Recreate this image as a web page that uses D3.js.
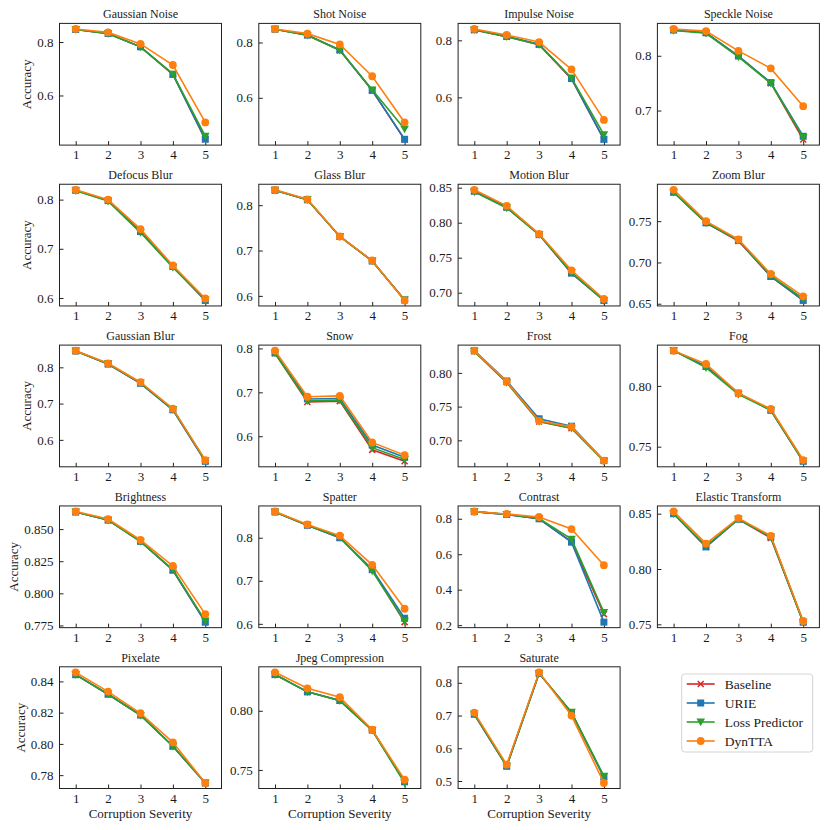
<!DOCTYPE html>
<html><head><meta charset="utf-8">
<script src="https://cdn.jsdelivr.net/npm/d3@7"></script>
<style>
body{margin:0;background:#fff}
svg text{font-family:"Liberation Serif","Times New Roman","DejaVu Serif",serif;fill:#1a1a1a}
</style>
</head><body>
<svg id="c" width="830" height="830" font-family="Liberation Serif, serif"></svg>
<script>
const corruptions = ["Gaussian Noise","Shot Noise","Impulse Noise","Speckle Noise",
  "Defocus Blur","Glass Blur","Motion Blur","Zoom Blur",
  "Gaussian Blur","Snow","Frost","Fog",
  "Brightness","Spatter","Contrast","Elastic Transform",
  "Pixelate","Jpeg Compression","Saturate"];
const severities = [1,2,3,4,5];
const seriesNames = ["Baseline","URIE","Loss Predictor","DynTTA"];

const baseline = [
  [0.847,0.832,0.782,0.679,0.435],
  [0.848,0.826,0.772,0.626,0.449],
  [0.836,0.813,0.785,0.665,0.452],
  [0.847,0.842,0.799,0.750,0.647],
  [0.819,0.798,0.735,0.664,0.595],
  [0.833,0.812,0.731,0.677,0.591],
  [0.845,0.822,0.783,0.728,0.689],
  [0.785,0.748,0.726,0.683,0.654],
  [0.845,0.809,0.756,0.683,0.541],
  [0.789,0.678,0.680,0.569,0.543],
  [0.832,0.786,0.728,0.718,0.670],
  [0.829,0.816,0.794,0.780,0.738],
  [0.8633,0.857,0.8405,0.818,0.7776],
  [0.860,0.829,0.800,0.725,0.604],
  [0.840,0.824,0.800,0.670,0.262],
  [0.850,0.820,0.845,0.828,0.752],
  [0.8443,0.8318,0.8185,0.7985,0.775],
  [0.8306,0.816,0.8087,0.7837,0.740],
  [0.704,0.545,0.829,0.709,0.512]
];
const urie = [
  [0.847,0.832,0.782,0.679,0.437],
  [0.848,0.827,0.773,0.627,0.450],
  [0.837,0.814,0.786,0.666,0.453],
  [0.847,0.842,0.800,0.751,0.653],
  [0.819,0.798,0.735,0.664,0.595],
  [0.833,0.812,0.731,0.677,0.591],
  [0.845,0.822,0.783,0.728,0.689],
  [0.785,0.748,0.727,0.683,0.654],
  [0.845,0.809,0.756,0.683,0.541],
  [0.790,0.685,0.686,0.580,0.552],
  [0.833,0.788,0.732,0.721,0.670],
  [0.829,0.816,0.794,0.780,0.738],
  [0.8633,0.857,0.8405,0.818,0.7776],
  [0.860,0.829,0.800,0.727,0.613],
  [0.840,0.824,0.800,0.668,0.217],
  [0.850,0.820,0.845,0.829,0.752],
  [0.8443,0.8318,0.8185,0.7985,0.775],
  [0.8306,0.816,0.8087,0.7837,0.740],
  [0.704,0.545,0.829,0.708,0.512]
];
const lossPredictor = [
  [0.847,0.831,0.782,0.680,0.448],
  [0.848,0.826,0.772,0.629,0.487],
  [0.837,0.813,0.785,0.668,0.469],
  [0.846,0.841,0.798,0.750,0.651],
  [0.818,0.797,0.733,0.662,0.596],
  [0.833,0.812,0.731,0.677,0.591],
  [0.844,0.821,0.783,0.729,0.689],
  [0.785,0.748,0.727,0.684,0.656],
  [0.845,0.810,0.757,0.684,0.543],
  [0.789,0.681,0.682,0.574,0.547],
  [0.832,0.786,0.728,0.718,0.669],
  [0.829,0.815,0.793,0.780,0.738],
  [0.8633,0.857,0.8403,0.8185,0.7786],
  [0.860,0.829,0.801,0.723,0.606],
  [0.840,0.825,0.801,0.685,0.272],
  [0.850,0.821,0.845,0.829,0.752],
  [0.8443,0.8318,0.8183,0.7985,0.775],
  [0.8306,0.816,0.8085,0.7835,0.739],
  [0.705,0.546,0.829,0.710,0.515]
];
const dynTTA = [
  [0.849,0.836,0.793,0.714,0.499],
  [0.849,0.832,0.793,0.678,0.511],
  [0.840,0.819,0.794,0.698,0.521],
  [0.849,0.845,0.809,0.777,0.708],
  [0.820,0.800,0.740,0.666,0.599],
  [0.834,0.813,0.731,0.678,0.590],
  [0.847,0.824,0.784,0.732,0.691],
  [0.788,0.750,0.728,0.686,0.659],
  [0.846,0.811,0.759,0.686,0.544],
  [0.795,0.690,0.692,0.586,0.557],
  [0.833,0.787,0.729,0.720,0.670],
  [0.829,0.818,0.794,0.781,0.739],
  [0.8637,0.8578,0.8415,0.8213,0.7838],
  [0.861,0.831,0.805,0.737,0.635],
  [0.841,0.827,0.810,0.742,0.538],
  [0.852,0.823,0.846,0.830,0.753],
  [0.8458,0.8335,0.8196,0.801,0.775],
  [0.8325,0.819,0.8115,0.784,0.7417],
  [0.709,0.550,0.832,0.700,0.494]
];
const yTickLabels = [
  ["0.6","0.8"],["0.6","0.8"],["0.6","0.8"],["0.7","0.8"],
  ["0.6","0.7","0.8"],["0.6","0.7","0.8"],["0.70","0.75","0.80","0.85"],["0.65","0.70","0.75"],
  ["0.6","0.7","0.8"],["0.6","0.7","0.8"],["0.70","0.75","0.80"],["0.75","0.80"],
  ["0.775","0.800","0.825","0.850"],["0.6","0.7","0.8"],["0.2","0.4","0.6","0.8"],["0.75","0.80","0.85"],
  ["0.78","0.80","0.82","0.84"],["0.75","0.80"],["0.5","0.6","0.7","0.8"]
];
const xTickLabels = ["1","2","3","4","5"];

const allSeries = [baseline, urie, lossPredictor, dynTTA];
const colors = ["#d62728","#1f77b4","#2ca02c","#ff7f0e"];
const markers = ["x","square","tri","circle"];

const FONT = '"Liberation Serif","Times New Roman","DejaVu Serif",serif';
const svg = d3.select("#c");
const left0 = 59.5, colStep = 199.3, axW = 162;
const top0 = 23.4, rowStep = 160.85, axH = 121.7;

function markerPath(type){
  if(type==="circle") return d3.symbol(d3.symbolCircle, Math.PI*3.9*3.9)();
  if(type==="square") return d3.symbol(d3.symbolSquare, 49)();
  if(type==="tri") return "M-4.3,-3.4L4.3,-3.4L0,4.3Z";
  return "M-3,-3L3,3M-3,3L3,-3";
}
function drawMarker(g, type, color){
  const p = g.append("path").attr("d", markerPath(type));
  if(type==="x") p.attr("fill","none").attr("stroke",color).attr("stroke-width",1.5);
  else p.attr("fill",color).attr("stroke","none");
}

corruptions.forEach((name, i) => {
  const col = i % 4, row = Math.floor(i / 4);
  const ox = left0 + col*colStep, oy = top0 + row*rowStep;
  const g = svg.append("g").attr("transform", `translate(${ox},${oy})`);
  const vals = allSeries.flatMap(s => s[i]);
  const mn = d3.min(vals), mx = d3.max(vals), pad = (mx-mn)*0.05;
  const x = d3.scaleLinear().domain([0.5,5.5]).range([0,axW]);
  const y = d3.scaleLinear().domain([mn-pad, mx+pad]).range([axH,0]);

  const tv = yTickLabels[i].map(Number);
  const ya = g.append("g").call(d3.axisLeft(y).tickValues(tv)
      .tickFormat((d,k)=>yTickLabels[i][k]).tickSize(-4).tickPadding(6));
  ya.attr("font-family", FONT);
  ya.select(".domain").remove();
  ya.selectAll("line").attr("stroke","#222");
  ya.selectAll("text").attr("font-size",13).style("font-family",FONT).attr("fill","#1a1a1a");
  const xa = g.append("g").attr("transform",`translate(0,${axH})`)
    .call(d3.axisBottom(x).tickValues(severities).tickFormat((d,k)=>xTickLabels[k]).tickSize(-4).tickPadding(5));
  xa.attr("font-family", FONT);
  xa.select(".domain").remove();
  xa.selectAll("line").attr("stroke","#222");
  xa.selectAll("text").attr("font-size",13).style("font-family",FONT).attr("fill","#1a1a1a");

  allSeries.forEach((s, si) => {
    const sg = g.append("g");
    sg.append("path").datum(s[i])
      .attr("fill","none").attr("stroke",colors[si]).attr("stroke-width",1.6)
      .attr("d", d3.line().x((d,k)=>x(severities[k])).y(d=>y(d)));
    s[i].forEach((v,k)=>{
      const mg = sg.append("g").attr("transform",`translate(${x(severities[k])},${y(v)})`);
      drawMarker(mg, markers[si], colors[si]);
    });
  });

  g.append("rect").attr("width",axW).attr("height",axH)
    .attr("fill","none").attr("stroke","#222").attr("stroke-width",1);

  g.append("text").attr("x",axW/2).attr("y",-5).attr("text-anchor","middle")
    .attr("font-size",12).style("font-family",FONT).text(name);

  if(col===0){
    let w = 0;
    ya.selectAll("text").each(function(){ w = Math.max(w, this.getComputedTextLength()); });
    const lx = -6 - w - 6;
    g.append("text").attr("transform",`translate(${lx},${axH/2}) rotate(-90)`)
      .attr("text-anchor","middle").attr("font-size",13).style("font-family",FONT).text("Accuracy");
  }
  if(row===4){
    g.append("text").attr("x",axW/2).attr("y",axH+29.5).attr("text-anchor","middle")
      .attr("font-size",13).style("font-family",FONT).text("Corruption Severity");
  }
});

const lg = svg.append("g").attr("transform","translate(681.7,674)");
lg.append("rect").attr("width",131).attr("height",78).attr("rx",3)
  .attr("fill","#fff").attr("stroke","#d4d4d4").attr("stroke-width",1);
seriesNames.forEach((n, si) => {
  const yy = 10 + si*19;
  const eg = lg.append("g").attr("transform",`translate(0,${yy})`);
  eg.append("line").attr("x1",5).attr("x2",33).attr("stroke",colors[si]).attr("stroke-width",1.6);
  const mg = eg.append("g").attr("transform","translate(19,0)");
  drawMarker(mg, markers[si], colors[si]);
  eg.append("text").attr("x",43).attr("y",4.5).attr("font-size",13.5).style("font-family",FONT).text(n);
});
</script>
</body></html>
